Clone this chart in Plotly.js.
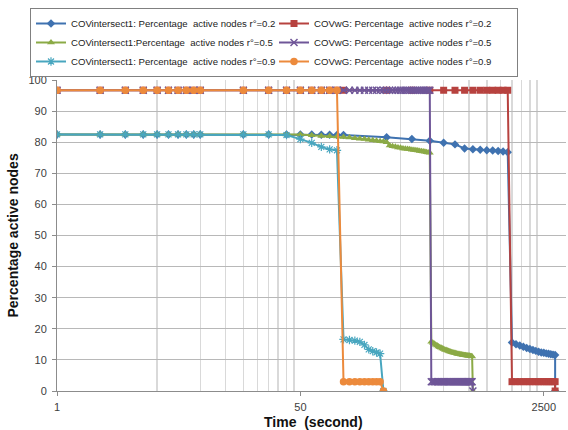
<!DOCTYPE html>
<html><head><meta charset="utf-8">
<script src="https://cdn.plot.ly/plotly-3.0.1.min.js"></script>
<style>html,body{margin:0;padding:0;background:#fff}#chart{width:568px;height:430px}</style>
</head><body><div id="chart"></div><script>
// ---- data (time in seconds, percentage of active nodes) ----
const seriesNames = [
  "COVintersect1: Percentage\u00a0 active nodes r°=0.2",
  "COVwG: Percentage\u00a0 active nodes r°=0.2",
  "COVintersect1:Percentage\u00a0 active nodes r°=0.5",
  "COVwG: Percentage\u00a0 active nodes r°=0.5",
  "COVintersect1: Percentage\u00a0 active nodes r°=0.9",
  "COVwG: Percentage\u00a0 active nodes r°=0.9"
];
const time_i02 = [1,2,3,4,5,6,7,8,9,10,20,30,40,50,60,70,80,90,100,200,300,400,500,600,700,800,900,1000,1100,1200,1300,1400,1500,1600,1700,1800,1900,2000,2100,2200,2300,2400,2500,2600,2700,2800,2900,3000,3000];
const pct_i02 = [82.5,82.5,82.5,82.5,82.5,82.5,82.5,82.5,82.5,82.5,82.5,82.5,82.5,82.5,82.5,82.4,82.4,82.3,82.3,81.6,81.0,80.5,79.8,79.3,78.0,77.7,77.6,77.4,77.3,77.2,77.0,76.8,15.6,15.0,14.6,14.2,13.8,13.5,13.2,12.9,12.6,12.4,12.3,12.1,12.0,11.8,11.7,11.6,0];
const time_g02 = [1,2,3,4,5,6,7,8,9,10,20,30,40,50,60,70,80,90,100,200,300,400,500,600,700,800,900,1000,1100,1200,1300,1400,1500,1600,1700,1800,1900,2000,2100,2200,2300,2400,2500,2600,2700,2800,2900,3000,3000];
const pct_g02 = [96.7,96.7,96.7,96.7,96.7,96.7,96.7,96.7,96.7,96.7,96.7,96.7,96.7,96.7,96.7,96.7,96.7,96.7,96.7,96.7,96.7,96.7,96.7,96.7,96.7,96.7,96.7,96.7,96.7,96.7,96.7,96.7,3,3,3,3,3,3,3,3,3,3,3,3,3,3,3,3,0];
const time_i05 = [1,2,3,4,5,6,7,8,9,10,20,30,40,50,60,70,80,90,
  100,110,120,130,140,150,160,170,180,190,200,210,220,230,240,250,260,270,280,290,300,310,320,330,340,350,360,370,380,390,400,
  410,420,430,440,450,460,470,480,490,500,510,520,530,540,550,560,570,580,590,600,610,620,630,640,650,660,670,680,690,700,710,720,730,740,750,760,770,780,790,800];
const pct_i05 = [82.5,82.5,82.5,82.5,82.5,82.5,82.5,82.5,82.5,82.5,82.5,82.5,82.5,82.5,82.2,82.0,81.9,81.8,
  81.7,81.5,81.3,81.1,81.0,80.8,80.6,80.5,80.3,80.2,80.0,78.9,78.7,78.5,78.3,78.2,78.0,77.9,77.8,77.7,77.6,77.5,77.4,77.3,77.2,77.1,77.0,76.9,76.8,76.7,76.6,
  15.8,15.5,15.2,14.9,14.6,14.3,14.1,13.9,13.7,13.5,13.3,13.2,13.0,12.9,12.7,12.6,12.5,12.4,12.3,12.2,12.1,12.0,11.9,11.9,11.8,11.7,11.7,11.6,11.6,11.5,11.5,11.4,11.4,11.3,11.3,11.3,11.2,11.2,11.1,0];
const time_g05 = [1,2,3,4,5,6,7,8,9,10,20,30,40,50,60,70,80,90,
  100,110,120,130,140,150,160,170,180,190,200,210,220,230,240,250,260,270,280,290,300,310,320,330,340,350,360,370,380,390,400,
  410,420,430,440,450,460,470,480,490,500,510,520,530,540,550,560,570,580,590,600,610,620,630,640,650,660,670,680,690,700,710,720,730,740,750,760,770,780,790,800];
const pct_g05 = [96.7,96.7,96.7,96.7,96.7,96.7,96.7,96.7,96.7,96.7,96.7,96.7,96.7,96.7,96.7,96.7,96.7,96.7,
  96.7,96.7,96.7,96.7,96.7,96.7,96.7,96.7,96.7,96.7,96.7,96.7,96.7,96.7,96.7,96.7,96.7,96.7,96.7,96.7,96.7,96.7,96.7,96.7,96.7,96.7,96.7,96.7,96.7,96.7,96.7,
  3,3,3,3,3,3,3,3,3,3,3,3,3,3,3,3,3,3,3,3,3,3,3,3,3,3,3,3,3,3,3,3,3,3,3,3,3,3,3,0];
const time_i09 = [1,2,3,4,5,6,7,8,9,10,20,30,40,50,60,70,80,90,100,110,120,130,140,150,160,170,180,190];
const pct_i09 = [82.5,82.5,82.5,82.5,82.5,82.5,82.5,82.5,82.5,82.5,82.5,82.5,82.3,81.0,79.8,78.5,77.7,77.4,16.6,16.4,16.2,15.8,14.8,13.4,12.8,12.4,12.0,0];
const time_g09 = [1,2,3,4,5,6,7,8,9,10,20,30,40,50,60,70,80,90,100,110,120,130,140,150,160,170,180,190];
const pct_g09 = [96.7,96.7,96.7,96.7,96.7,96.7,96.7,96.7,96.7,96.7,96.7,96.7,96.7,96.7,96.7,96.7,96.7,96.7,3,3,3,3,3,3,3,3,3,0];
const xTickVals = [1, 50, 2500];
const xTickText = ["1", "50", "2500"];
const xMinorGrid = [5,10,15,20,25,30,35,40,45,250,500,750,1000,1250,1500,1750,2000,2250];
const yTickVals = [0,10,20,30,40,50,60,70,80,90,100];

// ---- styles ----
const colors = ["#3F72B0", "#B7423F", "#8BAA46", "#6F5698", "#48A6BF", "#EC8A3C"];
const markers = [
  {symbol: "diamond", size: 6.5},
  {symbol: "square", size: 7},
  {symbol: "triangle-up", size: 7},
  {symbol: "x-thin", size: 7, line: {width: 1.5}},
  {symbol: "asterisk", size: 7, line: {width: 1.2}},
  {symbol: "circle", size: 7.5}
];
const xs = [time_i02, time_g02, time_i05, time_g05, time_i09, time_g09];
const ys = [pct_i02, pct_g02, pct_i05, pct_g05, pct_i09, pct_g09];

const traces = xs.map((x, i) => {
  const m = Object.assign({color: colors[i]}, markers[i]);
  if (m.line) m.line = Object.assign({color: colors[i]}, m.line);
  return {
    type: "scatter", mode: "lines+markers",
    x: x, y: ys[i], name: seriesNames[i],
    line: {color: colors[i], width: 2},
    marker: m
  };
});

const FONT = "'Liberation Sans', Arial, sans-serif";
const layout = {
  width: 568, height: 430,
  margin: {l: 57, r: 2, t: 80, b: 39, autoexpand: false},
  paper_bgcolor: "#ffffff", plot_bgcolor: "#ffffff",
  font: {family: FONT, size: 11, color: "#404040"},
  showlegend: true,
  hovermode: false,
  legend: {
    orientation: "h", xref: "container", yref: "container",
    x: 30/568, xanchor: "left", y: 1 - 8/430, yanchor: "top",
    entrywidth: 198,
    bgcolor: "#ffffff", bordercolor: "#808080", borderwidth: 1,
    font: {family: FONT, size: 9.6, color: "#222222"}
  },
  xaxis: {
    type: "log", range: [0, 3.553],
    tickmode: "array", tickvals: xTickVals, ticktext: xTickText,
    showgrid: false, zeroline: false,
    showline: true, linecolor: "#8c8c8c", linewidth: 1,
    ticks: "outside", ticklen: 4, tickcolor: "#8c8c8c",
    ticklabelstandoff: 2,
    tickfont: {family: FONT, size: 11, color: "#404040"},
    minor: {tickmode: "array", tickvals: xMinorGrid, showgrid: true, gridcolor: "#d9d9d9", gridwidth: 1.5, ticks: ""}
  },
  yaxis: {
    range: [0, 100], tickmode: "array", tickvals: yTickVals,
    showgrid: true, gridcolor: "#b8b8b8", gridwidth: 1,
    zeroline: false, showline: true, linecolor: "#8c8c8c", linewidth: 1,
    ticks: "outside", ticklen: 4, tickcolor: "#8c8c8c",
    ticklabelstandoff: 3,
    tickfont: {family: FONT, size: 11, color: "#404040"}
  },
  annotations: [
    {text: "<b>Time\u00a0 (second)</b>", xref: "paper", yref: "paper", x: 0.504, y: -31/311,
     xanchor: "center", yanchor: "middle", showarrow: false,
     font: {family: FONT, size: 14, color: "#111111"}},
    {text: "<b>Percentage active nodes</b>", xref: "paper", yref: "paper", x: -45/509, y: 0.5,
     xanchor: "center", yanchor: "middle", textangle: -90, showarrow: false,
     font: {family: FONT, size: 14, color: "#111111"}}
  ]
};
Plotly.newPlot("chart", traces, layout, {displayModeBar: false, staticPlot: true});
</script></body></html>
